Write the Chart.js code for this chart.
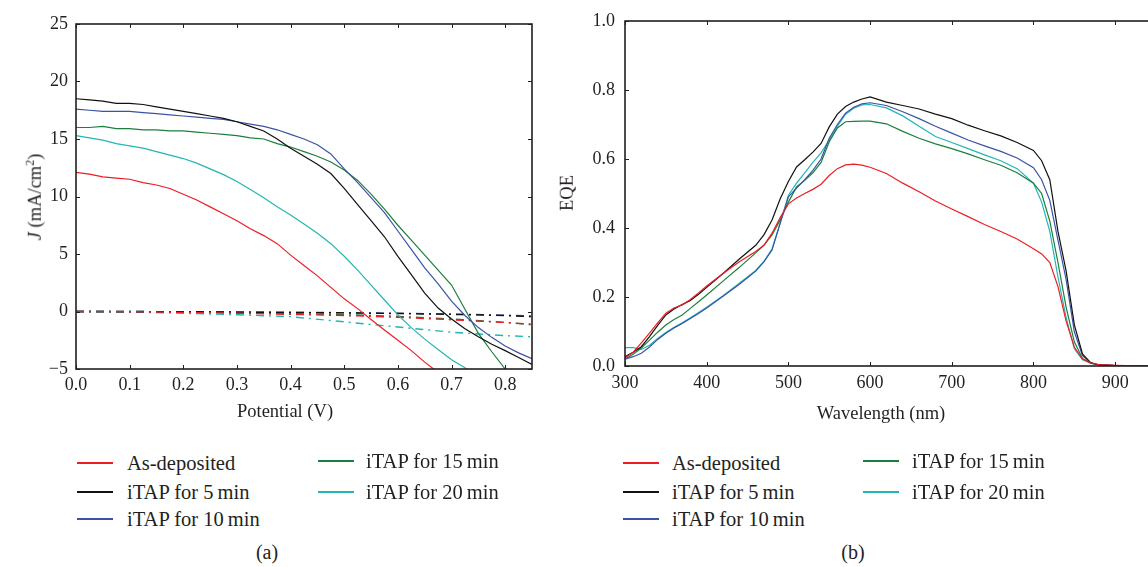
<!DOCTYPE html>
<html>
<head>
<meta charset="utf-8">
<script src="https://cdn.jsdelivr.net/npm/chart.js@4.4.1/dist/chart.umd.min.js"></script>
<style>
  body { margin: 0; width: 1148px; height: 567px; overflow: hidden; position: relative; background: #fff;
         font-family: "Liberation Serif", serif; color: #231f20; }
  .abs { position: absolute; white-space: nowrap; line-height: 1; }
  .ttl { transform: translate(-50%, -50%); font-size: 18.5px; }
  .rot { transform: translate(-50%, -50%) rotate(-90deg); font-size: 18.5px; }
  .leg { transform: translateY(-50%); font-size: 20.5px; }
  .cap { transform: translate(-50%, -50%); font-size: 20px; }
  .swatch { position: absolute; width: 36px; height: 0; }
  sup { font-size: 0.65em; vertical-align: 0.55em; line-height: 0; }
</style>
</head>
<body>
<canvas id="jv" width="560" height="440" style="position:absolute;left:0;top:0"></canvas>
<canvas id="eqe" width="640" height="440" style="position:absolute;left:540px;top:0"></canvas>

<div class="abs rot" style="left:35px;top:197px"><i>J</i> (mA/cm<sup>2</sup>)</div>
<div class="abs ttl" style="left:285px;top:411px">Potential (V)</div>
<div class="abs rot" style="left:567px;top:193px">EQE</div>
<div class="abs ttl" style="left:881px;top:413px">Wavelength (nm)</div>
<div class="abs cap" style="left:267px;top:552px">(a)</div>
<div class="abs cap" style="left:853px;top:552px">(b)</div>

<script>
// series
const seriesLabels = ['As-deposited', 'iTAP for 5\u2009min', 'iTAP for 10\u2009min', 'iTAP for 15\u2009min', 'iTAP for 20\u2009min'];
const seriesColors = ['#ed1c24', '#111111', '#3a53a4', '#1b7f3c', '#22b5b5'];

// (a) J-V under light, V in volts, J in mA/cm2
const volts = [0, 0.025, 0.05, 0.075, 0.1, 0.125, 0.15, 0.175, 0.2, 0.225, 0.25, 0.275, 0.3, 0.325, 0.35,
  0.375, 0.4, 0.425, 0.45, 0.475, 0.5, 0.525, 0.55, 0.575, 0.6, 0.625, 0.65, 0.675, 0.7, 0.725, 0.75,
  0.775, 0.8, 0.825, 0.85];
const jRed = [12.1, 11.95, 11.7, 11.6, 11.5, 11.2, 11.0, 10.7, 10.2, 9.7, 9.1, 8.5, 7.9, 7.2, 6.6, 5.9,
  4.9, 4.0, 3.1, 2.1, 1.1, 0.25, -0.7, -1.6, -2.5, -3.4, -4.4, -5.3];
const jBlack = [18.5, 18.4, 18.3, 18.1, 18.1, 18.0, 17.8, 17.6, 17.4, 17.2, 17.0, 16.8, 16.5, 16.1, 15.7,
  15.0, 14.2, 13.5, 12.8, 12.0, 10.7, 9.3, 7.9, 6.5, 4.8, 3.2, 1.6, 0.3, -0.65, -1.5, -2.2, -2.85, -3.4,
  -4.0, -4.6];
const jBlue = [17.6, 17.5, 17.4, 17.4, 17.4, 17.3, 17.2, 17.1, 17.0, 16.9, 16.8, 16.7, 16.5, 16.3, 16.1,
  15.8, 15.4, 15.0, 14.5, 13.7, 12.4, 11.2, 9.9, 8.6, 7.0, 5.4, 3.8, 2.4, 0.9, -0.35, -1.4, -2.25, -3.0,
  -3.6, -4.1];
const jGreen = [16.0, 16.0, 16.1, 15.9, 15.9, 15.8, 15.8, 15.7, 15.7, 15.6, 15.5, 15.4, 15.3, 15.1, 15.0,
  14.6, 14.3, 13.9, 13.5, 13.0, 12.3, 11.4, 10.2, 8.9, 7.5, 6.2, 4.9, 3.6, 2.3, 0.2, -1.9, -3.5, -5.0, -6.5];
const jCyan = [15.3, 15.1, 14.9, 14.6, 14.4, 14.2, 13.9, 13.6, 13.3, 12.9, 12.4, 11.9, 11.3, 10.6, 9.9,
  9.1, 8.4, 7.6, 6.8, 5.9, 4.8, 3.6, 2.3, 1.0, -0.3, -1.4, -2.4, -3.3, -4.2, -4.9, -5.6];

// (a) dark curves (dash-dot)
const darkVolts = [0, 0.1, 0.2, 0.3, 0.4, 0.5, 0.6, 0.7, 0.8, 0.85];
const darkRed = [0, -0.02, -0.08, -0.15, -0.25, -0.35, -0.5, -0.72, -0.95, -1.1];
const darkBlack = [0, 0, -0.02, -0.05, -0.08, -0.12, -0.18, -0.25, -0.35, -0.45];
const darkBlue = [0, 0, -0.02, -0.04, -0.07, -0.1, -0.15, -0.22, -0.32, -0.4];
const darkGreen = [0, -0.01, -0.04, -0.1, -0.18, -0.28, -0.42, -0.65, -0.95, -1.15];
const darkCyan = [0, -0.05, -0.15, -0.28, -0.45, -0.9, -1.35, -1.8, -2.1, -2.2];

// (b) EQE vs wavelength (nm)
const wavelengths = [300, 310, 320, 330, 340, 350, 360, 370, 380, 390, 400, 420, 440, 460, 470, 480, 490,
  500, 510, 520, 530, 540, 550, 560, 570, 580, 590, 600, 620, 640, 660, 680, 700, 720, 740, 760, 780, 800,
  810, 820, 830, 840, 850, 860, 870, 880, 900, 940];
const eqeRed = [0.023, 0.04, 0.067, 0.095, 0.125, 0.153, 0.168, 0.177, 0.193, 0.212, 0.232, 0.268, 0.302,
  0.332, 0.35, 0.385, 0.43, 0.47, 0.487, 0.5, 0.512, 0.527, 0.552, 0.572, 0.583, 0.585, 0.582, 0.576,
  0.558, 0.53, 0.505, 0.478, 0.455, 0.433, 0.41, 0.39, 0.368, 0.34, 0.325, 0.3, 0.23, 0.13, 0.055, 0.02,
  0.009, 0.004, 0.002, 0];
const eqeBlack = [0.027, 0.04, 0.056, 0.085, 0.118, 0.148, 0.165, 0.178, 0.19, 0.208, 0.228, 0.268, 0.31,
  0.35, 0.38, 0.423, 0.485, 0.535, 0.577, 0.598, 0.62, 0.645, 0.693, 0.73, 0.752, 0.765, 0.774, 0.78,
  0.765, 0.755, 0.745, 0.73, 0.717, 0.698, 0.682, 0.667, 0.648, 0.625, 0.595, 0.54, 0.39, 0.275, 0.12,
  0.035, 0.01, 0.003, 0.001, 0];
const eqeBlue = [0.02, 0.027, 0.037, 0.055, 0.077, 0.095, 0.11, 0.123, 0.138, 0.152, 0.168, 0.202, 0.237,
  0.275, 0.302, 0.336, 0.414, 0.49, 0.516, 0.54, 0.567, 0.6, 0.66, 0.7, 0.733, 0.75, 0.76, 0.763, 0.755,
  0.737, 0.717, 0.695, 0.675, 0.655, 0.638, 0.622, 0.603, 0.575, 0.54, 0.48, 0.365, 0.25, 0.1, 0.03,
  0.009, 0.003, 0.001, 0];
const eqeGreen = [0.02, 0.034, 0.052, 0.075, 0.098, 0.119, 0.135, 0.148, 0.167, 0.186, 0.206, 0.246, 0.286,
  0.328, 0.35, 0.38, 0.423, 0.475, 0.519, 0.538, 0.56, 0.59, 0.65, 0.69, 0.708, 0.709, 0.71, 0.71, 0.702,
  0.68, 0.66, 0.644, 0.63, 0.615, 0.598, 0.582, 0.56, 0.53, 0.5, 0.42, 0.3, 0.17, 0.07, 0.022, 0.008,
  0.003, 0.001, 0];
const eqeCyan = [0.053, 0.053, 0.048, 0.06, 0.08, 0.097, 0.112, 0.125, 0.14, 0.155, 0.17, 0.204, 0.24,
  0.277, 0.303, 0.34, 0.415, 0.495, 0.53, 0.56, 0.59, 0.618, 0.655, 0.695, 0.73, 0.747, 0.757, 0.758,
  0.748, 0.725, 0.695, 0.665, 0.648, 0.63, 0.612, 0.595, 0.572, 0.53, 0.475, 0.39, 0.258, 0.14, 0.05,
  0.018, 0.008, 0.003, 0.001, 0];

const ink = '#231f20';
const serif = size => ({ family: 'Liberation Serif', size: size });

// box round the plot with inward ticks on all four sides
const frame = {
  id: 'frame',
  afterDatasetsDraw(chart) {
    const { ctx, chartArea: a, scales: { x, y } } = chart;
    ctx.save();
    ctx.strokeStyle = ink;
    ctx.lineWidth = 1;
    ctx.beginPath();
    x.ticks.forEach(t => {
      const px = Math.round(x.getPixelForValue(t.value)) + 0.5;
      ctx.moveTo(px, a.bottom); ctx.lineTo(px, a.bottom - 4);
      ctx.moveTo(px, a.top); ctx.lineTo(px, a.top + 4);
    });
    y.ticks.forEach(t => {
      const py = Math.round(y.getPixelForValue(t.value)) + 0.5;
      ctx.moveTo(a.left, py); ctx.lineTo(a.left + 4, py);
      ctx.moveTo(a.right, py); ctx.lineTo(a.right - 4, py);
    });
    ctx.stroke();
    ctx.lineWidth = 1.6;
    ctx.strokeRect(a.left, a.top, a.right - a.left, a.bottom - a.top);
    ctx.restore();
  }
};

function pairs(xs, ys) {
  return ys.map((v, i) => ({ x: xs[i], y: v }));
}

function baseOptions(pad, yWidth, xHeight, xScale, yScale) {
  const noGrid = { display: false, drawTicks: false };
  return {
    responsive: false,
    animation: false,
    devicePixelRatio: 1,
    layout: { padding: pad },
    plugins: { legend: { display: false }, tooltip: { enabled: false } },
    elements: { point: { radius: 0 }, line: { tension: 0 } },
    scales: {
      x: Object.assign({ type: 'linear', grid: noGrid, border: { display: false },
        afterFit: s => { s.height = xHeight; } }, xScale),
      y: Object.assign({ type: 'linear', grid: noGrid, border: { display: false },
        afterFit: s => { s.width = yWidth; } }, yScale)
    }
  };
}

const jvSolid = [jRed, jBlack, jBlue, jGreen, jCyan].map((arr, i) => ({
  label: seriesLabels[i], data: pairs(volts, arr), borderColor: seriesColors[i], borderWidth: 1.2
}));
const jvDark = [darkRed, darkBlack, darkBlue, darkGreen, darkCyan].map((arr, i) => ({
  label: seriesLabels[i] + ' (dark)', data: pairs(darkVolts, arr), borderColor: seriesColors[i],
  borderWidth: 1.4, borderDash: [8, 5, 2, 5]
}));

new Chart(document.getElementById('jv'), {
  type: 'line',
  data: { datasets: jvSolid.concat(jvDark) },
  options: baseOptions({ left: 0, top: 24, right: 28, bottom: 0 }, 76, 71,
    { min: 0, max: 0.85,
      ticks: { stepSize: 0.1, includeBounds: false, padding: 5, color: ink, font: serif(18),
               maxRotation: 0, autoSkip: false, callback: v => v.toFixed(1) } },
    { min: -5, max: 25,
      ticks: { stepSize: 5, padding: 8, color: ink, font: serif(18),
               callback: v => v < 0 ? '\u2212' + (-v) : String(v) } }),
  plugins: [frame]
});

const eqeSets = [eqeRed, eqeBlack, eqeBlue, eqeGreen, eqeCyan].map((arr, i) => ({
  label: seriesLabels[i], data: pairs(wavelengths, arr), borderColor: seriesColors[i], borderWidth: 1.2
}));

new Chart(document.getElementById('eqe'), {
  type: 'line',
  data: { datasets: eqeSets },
  options: baseOptions({ left: 0, top: 21, right: 24, bottom: 0 }, 85, 74,
    { min: 300, max: 950,
      ticks: { stepSize: 100, includeBounds: false, padding: 6, color: ink, font: serif(18),
               maxRotation: 0, autoSkip: false } },
    { min: 0, max: 1,
      ticks: { stepSize: 0.2, padding: 10, color: ink, font: serif(18), callback: v => v.toFixed(1) } }),
  plugins: [frame]
});

// legends in two columns below each panel
const legendSlots = [[0, 463], [0, 492], [0, 519], [1, 461], [1, 492]];
function legend(lineX, textX) {
  legendSlots.forEach(([col, yc], i) => {
    const sw = document.createElement('div');
    sw.className = 'swatch';
    sw.style.left = lineX[col] + 'px';
    sw.style.top = (yc - 1) + 'px';
    sw.style.borderTop = '2px solid ' + seriesColors[i];
    const tx = document.createElement('div');
    tx.className = 'abs leg';
    tx.style.left = textX[col] + 'px';
    tx.style.top = yc + 'px';
    tx.textContent = seriesLabels[i];
    document.body.append(sw, tx);
  });
}
legend([77, 318], [127, 366]);
legend([623, 863], [672, 912]);
</script>
</body>
</html>
